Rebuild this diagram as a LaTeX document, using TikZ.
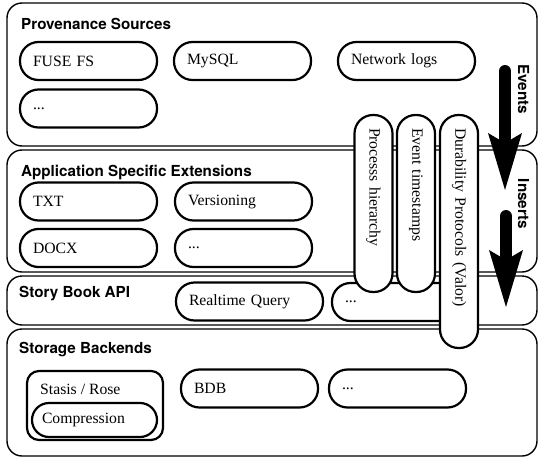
\documentclass[tikz,border=0pt]{standalone}
\usepackage{fontspec}
\setmainfont{Liberation Serif}
\newfontfamily\headfont{TeX Gyre Heros}
\usepackage{tikz}
\usetikzlibrary{arrows.meta}
\tikzset{layer/.style={draw,line width=1.4pt,rounded corners=15pt,
                       minimum width=530pt}}
\tikzset{pill/.style={draw,fill=white,line width=2.2pt,rounded corners=18.5pt,
                      minimum height=38pt,inner xsep=13pt,text width=#1,
                      align=left,font=\fontsize{15.7}{18}\selectfont},
         pill/.default=111pt}
\tikzset{heading/.style={anchor=base west,inner sep=0pt,
                         font=\headfont\bfseries\fontsize{15.2}{18}\selectfont}}
\tikzset{flow/.style={line width=12pt,line cap=round,
                      -{Stealth[length=57pt,width=34pt,inset=10pt,line width=0pt]}}}

\begin{document}
\begin{tikzpicture}[x=1pt,y=-1pt]
    \useasboundingbox (0,0) rectangle (539,458);
    % Layers
    \node[layer,minimum height=143pt] (prov) at (272,74.5) {};
    \node[layer,minimum height=122pt] (ext) at (272,211) {};
    \node[layer,minimum height=49pt] (api) at (272,300.5) {};
    \node[layer,minimum height=127pt] (store) at (272,392.5) {};
    \node[heading] (provtitle) at (21,29) {Provenance Sources};
    \node[heading] (exttitle) at (21,176) {Application Specific Extensions};
    \node[heading] (apititle) at (19,297) {Story Book API};
    \node[heading] (storetitle) at (19,353) {Storage Backends};

    % Provenance sources
    \foreach \h/\x [count=\hi] in {FUSE FS/88.5,MySQL/242.5,Network logs/406.5}{%
          \node[pill] (src\hi) at (\x,61) {\h};
        }
    \node[pill] (src4) at (88.5,108.5) {...};

    % Extensions
    \foreach \h/\x/\y [count=\hi] in {TXT/88.5/201.5,Versioning/243.5/201.5,
                                     DOCX/88.5/248}{%
          \node[pill] (ext\hi) at (\x,\y) {\h};
        }
    \node[pill] (ext4) at (243.5,248) {...};

    % API
    \node[pill=121pt] (query) at (249.5,301.5) {Realtime Query};
    \node[pill] (api2) at (400.5,302) {...};

    % Backends
    \node[draw,line width=2.2pt,rounded corners=12pt,minimum width=136pt,
          minimum height=69pt] (stasis) at (95,405.5) {};
    \node[anchor=base west,inner sep=0pt,font=\fontsize{15.7}{18}\selectfont]
          (stasislabel) at (40,394) {Stasis / Rose};
    \node[pill=105pt,inner xsep=10pt,minimum height=34pt,rounded corners=17pt]
          (compress) at (94.5,420) {Compression};
    \node[pill] (bdb) at (249.5,388.5) {BDB};
    \node[pill] (store2) at (397.5,388.5) {...};

    % Cross-cutting
    \foreach \h/\x/\y/\l [count=\hi] in {Processs hierarchy/373.5/203.5/151pt,
                                        Event timestamps/416/203.5/151pt,
                                        Durability Protocols (Valor)/459/231.5/207pt}{%
          \node[pill=\l,rotate=-90] (vert\hi) at (\x,\y) {\h};
        }

    % Flow arrows
    \coordinate (evtop) at (505,71);
    \coordinate (evtip) at (505,190);
    \coordinate (instop) at (506,216);
    \coordinate (instip) at (506,307);
    \draw[flow] (evtop) -- (evtip);
    \draw[flow] (instop) -- (instip);
    \node[heading,anchor=center,rotate=-90] (evlabel) at (523.5,89) {Events};
    \node[heading,anchor=center,rotate=-90] (inslabel) at (523.5,204) {Inserts};
\end{tikzpicture}
\end{document}
